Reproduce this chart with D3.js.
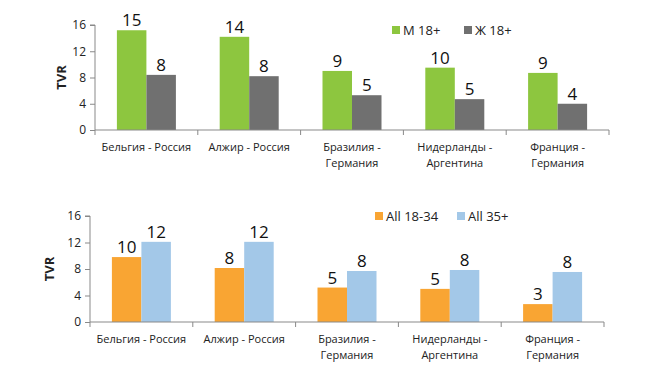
<!DOCTYPE html>
<html><head><meta charset="utf-8">
<script src="https://cdn.jsdelivr.net/npm/d3@7"></script>
<style>
body{margin:0;background:#fff;}
text{font-family:"Open Sans",Calibri,sans-serif;}
</style></head>
<body><svg id="c" width="649" height="378"></svg>
<script>
const categories = [["Бельгия - Россия"],["Алжир - Россия"],["Бразилия -","Германия"],["Нидерланды -","Аргентина"],["Франция -","Германия"]];
const topSeriesNames = ["М 18+","Ж 18+"];
const topM = [15.2, 14.2, 9.0, 9.5, 8.7];
const topF = [8.4, 8.2, 5.3, 4.7, 4.0];
const botSeriesNames = ["All 18-34","All 35+"];
const bot1834 = [9.8, 8.15, 5.2, 5.0, 2.7];
const bot35 = [12.1, 12.1, 7.7, 7.85, 7.55];
const yTicks = [0,4,8,12,16];
const axisTitle = "TVR";

const svg = d3.select("#c");

function panel(cfg){
  const g = svg.append("g");
  const x = d3.scaleBand().domain(d3.range(categories.length)).range([cfg.x0, cfg.x1]);
  const y = d3.scaleLinear().domain([0,16]).range([cfg.yb, cfg.yt]);
  // y axis
  const ya = g.append("g").attr("transform",`translate(${cfg.x0},0)`)
    .call(d3.axisLeft(y).tickValues(yTicks).tickSize(5).tickPadding(4));
  ya.select(".domain").attr("stroke","#898989").attr("d",`M-5,${cfg.yt}H0V${cfg.yb}`);
  ya.selectAll(".tick line").attr("stroke","#898989");
  ya.selectAll(".tick text").attr("font-size",12).attr("fill","#222").style("font-family","'Open Sans',sans-serif");
  // bars
  const bw = 29.5;
  cfg.series.forEach((s,si)=>{
    s.values.forEach((v,i)=>{
      const cx = x(i)+x.bandwidth()/2;
      const bx = cx - bw + si*bw;
      g.append("rect").attr("x",bx).attr("y",y(v)).attr("width",bw).attr("height",y(0)-y(v)).attr("fill",s.color);
      g.append("text").attr("x",bx+bw/2).attr("y",y(v)-4).attr("text-anchor","middle")
        .attr("font-size",17).attr("fill","#111").text(Math.round(v));
    });
  });
  // x axis
  const xa = g.append("g").attr("transform",`translate(0,${cfg.yb})`);
  xa.append("line").attr("x1",cfg.x0).attr("x2",cfg.x1).attr("stroke","#898989");
  const bounds = d3.range(categories.length+1).map(i=> i<categories.length ? x(i) : cfg.x1);
  bounds.forEach(b=> xa.append("line").attr("x1",b).attr("x2",b).attr("y1",0).attr("y2",5).attr("stroke","#898989"));
  categories.forEach((c,i)=>{
    const t = xa.append("text").attr("text-anchor","middle").attr("font-size",11).attr("fill","#222");
    c.forEach((ln,li)=> t.append("tspan").attr("x",x(i)+x.bandwidth()/2).attr("y",21+li*16).text(ln));
  });
  // axis title
  g.append("text").attr("transform",`translate(${cfg.titleX},${(cfg.yt+cfg.yb)/2}) rotate(-90)`)
    .attr("text-anchor","middle").attr("font-size",13).attr("font-weight","bold").attr("fill","#222").text(axisTitle);
  // legend
  cfg.legend.forEach((l,i)=>{
    g.append("rect").attr("x",l.x).attr("y",cfg.legY-4).attr("width",8).attr("height",8).attr("fill",cfg.series[i].color);
    g.append("text").attr("x",l.x+11).attr("y",cfg.legY).attr("dy","0.35em").attr("font-size",13).attr("fill","#222").text(cfg.series[i].name);
  });
}

panel({x0:95,x1:609,yt:25,yb:130,titleX:66,legY:30,
  series:[{name:topSeriesNames[0],values:topM,color:"#8DC63F"},{name:topSeriesNames[1],values:topF,color:"#707070"}],
  legend:[{x:392},{x:464}]});
panel({x0:90,x1:604,yt:216,yb:322,titleX:54,legY:216,
  series:[{name:botSeriesNames[0],values:bot1834,color:"#F9A533"},{name:botSeriesNames[1],values:bot35,color:"#A3C8E8"}],
  legend:[{x:375},{x:457}]});
</script></body></html>
